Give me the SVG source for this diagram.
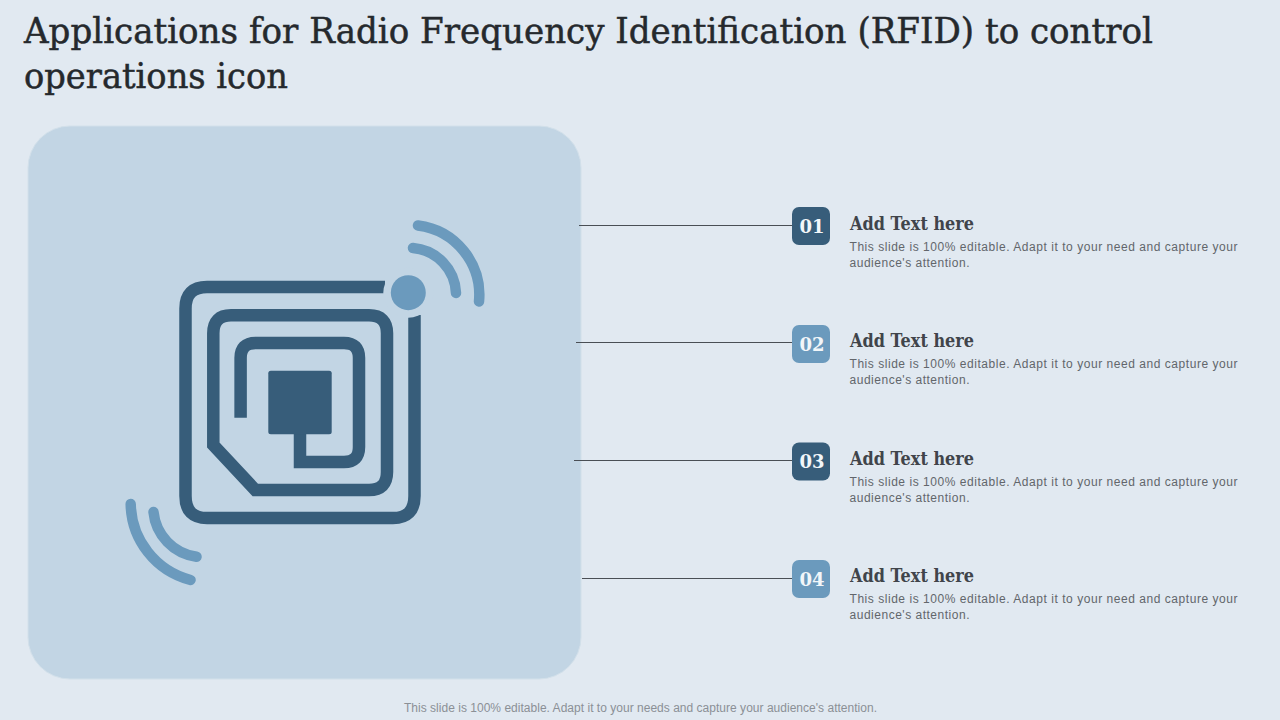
<svg xmlns="http://www.w3.org/2000/svg" width="1280" height="720" viewBox="0 0 1280 720">
<style>
.title{font-family:"DejaVu Serif",serif;font-size:36px;fill:#25292d;stroke:#25292d;stroke-width:.5}
.head{font-family:"DejaVu Serif",serif;font-size:18.500px;font-weight:bold;fill:#40444a}
.num{font-family:"DejaVu Serif",serif;font-size:18px;font-weight:bold;fill:#f2f6f9;text-anchor:middle}
.body{font-family:"Liberation Sans",Arial,sans-serif;font-size:12px;fill:#62666b}
.foot{font-family:"Liberation Sans",Arial,sans-serif;font-size:12px;fill:#8b9096}
.dark{fill:none;stroke:#375d7a;stroke-width:12.5}
.wave{fill:none;stroke:#6b9abd;stroke-width:10.500;stroke-linecap:round}
.line{stroke:#4a4f55;stroke-width:1;fill:none}
</style>
<rect width="1280" height="720" fill="#e1e9f1"/>
<text class="title" x="24" y="43" textLength="1129" lengthAdjust="spacingAndGlyphs">Applications for Radio Frequency Identification (RFID) to control</text>
<text class="title" x="24" y="88" textLength="264" lengthAdjust="spacingAndGlyphs">operations icon</text>
<rect id="panel" x="28" y="126" width="553" height="553" rx="42" fill="#c2d5e4" stroke="#d2e0ea" stroke-width="1"/>
<g id="rfid-icon">
<path class="dark" d="M385 287H207Q185.500 287 185.500 308.500V496Q185.500 518 207 518H393Q414.500 518 414.500 496V315"/>
<circle cx="408.300" cy="292.700" r="25" fill="#c2d5e4"/>
<path class="dark" d="M231 315.300H369Q387 315.300 387 333.300V472Q387 490 369 490H255.300L213.300 445V333.300Q213.300 315.300 231 315.300Z"/>
<path class="dark" d="M240.600 417.700V358Q240.600 343 255.600 343H344Q359 343 359 358V447Q359 462 344 462H300V430"/>
<rect x="268.300" y="370.700" width="63.400" height="63.600" rx="2.500" fill="#375d7a"/>
<circle cx="408.300" cy="292.700" r="17.500" fill="#6b9abd"/>
<path class="wave" d="M418 225.500A70 70 0 0 1 479 301.500"/>
<path class="wave" d="M413 248A47 47 0 0 1 456 293"/>
<path class="wave" d="M130.700 504A80 80 0 0 0 190.500 580"/>
<path class="wave" d="M153.500 512A50 50 0 0 0 196.500 556.700"/>
</g>
<g id="connectors">
<path class="line" d="M579 225.500H792"/>
<path class="line" d="M576 342.500H792"/>
<path class="line" d="M574 460.500H792"/>
<path class="line" d="M582 578.500H792"/>
</g>
<g id="item-01">
<rect x="792" y="207" width="38" height="38" rx="7" fill="#375d7a"/>
<text class="num" x="812" y="232.500">01</text>
<text class="head" x="850" y="229.500" textLength="124" lengthAdjust="spacingAndGlyphs">Add Text here</text>
<text class="body" x="849.500" y="251" textLength="388">This slide is 100% editable. Adapt it to your need and capture your</text>
<text class="body" x="849.500" y="267" textLength="120">audience's attention.</text>
</g>
<g id="item-02">
<rect x="792" y="325" width="38" height="38" rx="7" fill="#6b9abd"/>
<text class="num" x="812" y="350.500">02</text>
<text class="head" x="850" y="347" textLength="124" lengthAdjust="spacingAndGlyphs">Add Text here</text>
<text class="body" x="849.500" y="368" textLength="388">This slide is 100% editable. Adapt it to your need and capture your</text>
<text class="body" x="849.500" y="384" textLength="120">audience's attention.</text>
</g>
<g id="item-03">
<rect x="792" y="442.500" width="38" height="38" rx="7" fill="#375d7a"/>
<text class="num" x="812" y="467.500">03</text>
<text class="head" x="850" y="464.500" textLength="124" lengthAdjust="spacingAndGlyphs">Add Text here</text>
<text class="body" x="849.500" y="486" textLength="388">This slide is 100% editable. Adapt it to your need and capture your</text>
<text class="body" x="849.500" y="502" textLength="120">audience's attention.</text>
</g>
<g id="item-04">
<rect x="792" y="560" width="38" height="38" rx="7" fill="#6b9abd"/>
<text class="num" x="812" y="585.500">04</text>
<text class="head" x="850" y="582" textLength="124" lengthAdjust="spacingAndGlyphs">Add Text here</text>
<text class="body" x="849.500" y="603" textLength="388">This slide is 100% editable. Adapt it to your need and capture your</text>
<text class="body" x="849.500" y="619" textLength="120">audience's attention.</text>
</g>
<text class="foot" x="404" y="712" textLength="473">This slide is 100% editable. Adapt it to your needs and capture your audience's attention.</text>
</svg>
